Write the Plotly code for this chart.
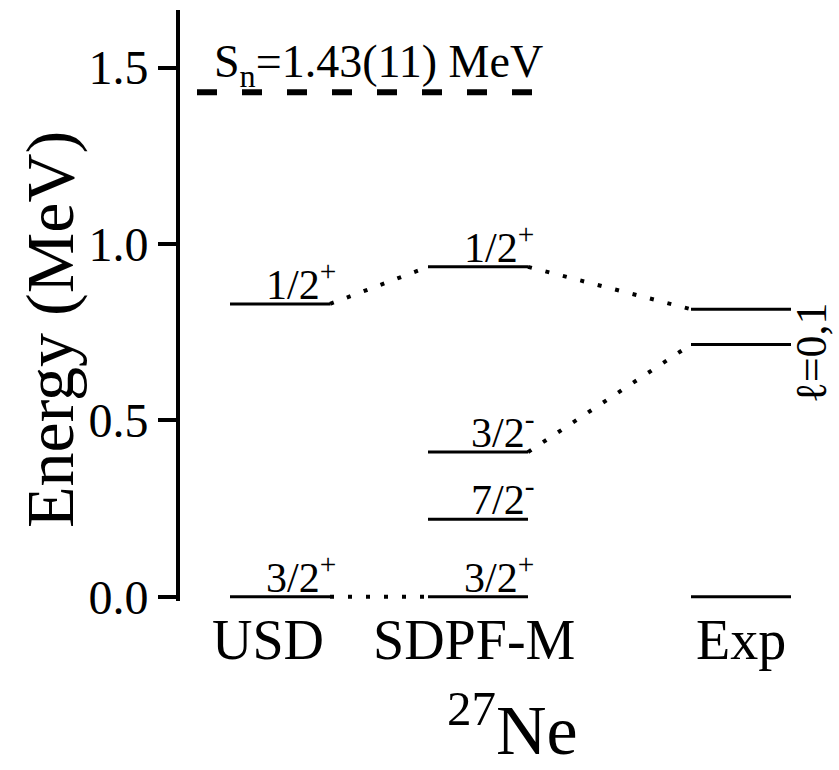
import plotly.graph_objects as go

# Level scheme of 27Ne: shell-model calculations vs. experiment
columns = ["USD", "SDPF-M", "Exp"]
usd_energies = [0.0, 0.83]
usd_spins = ["3/2<sup>+</sup>", "1/2<sup>+</sup>"]
sdpfm_energies = [0.0, 0.22, 0.41, 0.935]
sdpfm_spins = ["3/2<sup>+</sup>", "7/2<sup>-</sup>", "3/2<sup>-</sup>", "1/2<sup>+</sup>"]
exp_energies = [0.0, 0.715, 0.815]
sn_energy = 1.43
sn_label = "S<sub>n</sub>=1.43(11) MeV"
tick_values = [0.0, 0.5, 1.0, 1.5]

# Correlations drawn as dotted links: (column, energy) -> (column, energy)
links = [
    (("USD", 0.0), ("SDPF-M", 0.0)),
    (("USD", 0.83), ("SDPF-M", 0.935)),
    (("SDPF-M", 0.935), ("Exp", 0.815)),
    (("SDPF-M", 0.41), ("Exp", 0.715)),
]

# Horizontal layout (x axis in pixel-like units from the energy axis)
col_center = {"USD": 100, "SDPF-M": 298, "Exp": 561}
col_label_shift = {"USD": -12, "SDPF-M": -4, "Exp": 0}
half_width = 50
FONT = "Liberation Serif"

fig = go.Figure()

levels = {
    "USD": (usd_energies, usd_spins),
    "SDPF-M": (sdpfm_energies, sdpfm_spins),
    "Exp": (exp_energies, [None] * len(exp_energies)),
}

annotations = []
for col, (energies, spins) in levels.items():
    c = col_center[col]
    for e, s in zip(energies, spins):
        fig.add_trace(go.Scatter(
            x=[c - half_width, c + half_width], y=[e, e], mode="lines",
            line=dict(color="black", width=3), cliponaxis=False,
            hoverinfo="skip", showlegend=False))
        if s:
            annotations.append(dict(
                x=c + half_width + 8, y=e, xref="x", yref="y", text=s,
                showarrow=False, xanchor="right", yanchor="bottom", yshift=-6,
                font=dict(family=FONT, size=42, color="black")))
    annotations.append(dict(
        x=c, y=0, xref="x", yref="y", text=col, showarrow=False,
        xanchor="center", yanchor="top", yshift=-10, xshift=col_label_shift[col],
        font=dict(family=FONT, size=56, color="black")))

for (c1, e1), (c2, e2) in links:
    fig.add_trace(go.Scatter(
        x=[col_center[c1] + half_width, col_center[c2] - half_width], y=[e1, e2],
        mode="lines", line=dict(color="black", width=4, dash="4px,14px"),
        cliponaxis=False, hoverinfo="skip", showlegend=False))

# Neutron separation energy
fig.add_trace(go.Scatter(
    x=[17, 365], y=[sn_energy, sn_energy], mode="lines",
    line=dict(color="black", width=6, dash="20px,25px"),
    cliponaxis=False, hoverinfo="skip", showlegend=False))
annotations.append(dict(
    x=32, y=sn_energy, xref="x", yref="y", text=sn_label, showarrow=False,
    xanchor="left", yanchor="bottom", yshift=-4,
    font=dict(family=FONT, size=46, color="black")))

# Orbital angular momentum of the experimental doublet
annotations.append(dict(
    x=col_center["Exp"] + half_width + 20, y=0.69, xref="x", yref="y",
    text="ℓ=0,1", textangle=-90, showarrow=False,
    xanchor="center", yanchor="middle",
    font=dict(family=FONT, size=44, color="black")))

# Axis title and nucleus label
annotations.append(dict(
    x=0, y=0.756, xref="paper", yref="y", text="Energy (MeV)", textangle=-90,
    showarrow=False, xanchor="center", yanchor="middle", xshift=-130,
    font=dict(family=FONT, size=68, color="black")))
annotations.append(dict(
    x=332, y=0, xref="x", yref="y", text="<sup>27</sup>Ne", showarrow=False,
    xanchor="center", yanchor="bottom", yshift=-174,
    font=dict(family=FONT, size=70, color="black")))

fig.update_layout(
    width=839, height=770,
    margin=dict(l=180, r=0, t=10, b=169),
    paper_bgcolor="white", plot_bgcolor="white",
    annotations=annotations,
    xaxis=dict(range=[0, 659], visible=False, fixedrange=True),
    yaxis=dict(
        range=[-0.012, 1.663], tickvals=tick_values, tickformat=".1f",
        showline=True, linecolor="black", linewidth=4,
        ticks="outside", ticklen=18, tickwidth=4, tickcolor="black",
        showgrid=False, zeroline=False,
        tickfont=dict(family=FONT, size=48, color="black")),
)

fig.write_html("out.html")
